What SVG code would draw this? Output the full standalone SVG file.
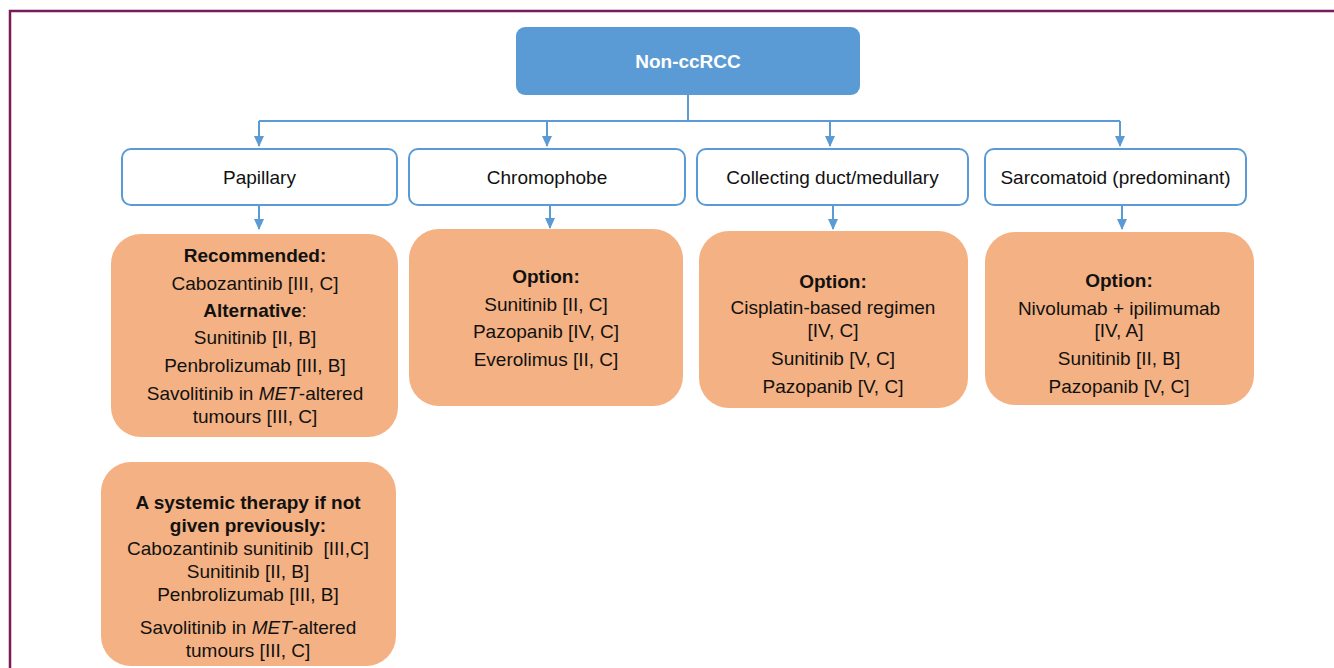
<svg xmlns="http://www.w3.org/2000/svg" width="1334" height="668" viewBox="0 0 1334 668">
<defs>
<marker id="arr" markerWidth="11" markerHeight="10" refX="10" refY="5" orient="auto" markerUnits="userSpaceOnUse">
<path d="M0,0 L11,5 L0,10 Z" fill="#5B9BD5"/>
</marker>
</defs>
<style>
text{font-family:"Liberation Sans",Arial,sans-serif;font-size:19px;fill:#111;text-anchor:middle}
.b{font-weight:bold}
.w{fill:#fff;font-weight:bold}
.cat{fill:#fff;stroke:#5B9BD5;stroke-width:2}
.opt{fill:#F4B183}
.c{fill:none;stroke:#5B9BD5;stroke-width:2}
</style>
<rect x="0" y="0" width="1334" height="668" fill="#fff"/>
<path d="M10,668 L10,11 L1334,11" fill="none" stroke="#7B1A5A" stroke-width="2.5"/>
<g id="connectors">
<path class="c" d="M688,95 L688,121 M259,121 L1120,121"/>
<path class="c" d="M259,121 L259,146" marker-end="url(#arr)"/>
<path class="c" d="M547,121 L547,146" marker-end="url(#arr)"/>
<path class="c" d="M830,121 L830,146" marker-end="url(#arr)"/>
<path class="c" d="M1120,121 L1120,146" marker-end="url(#arr)"/>
<path class="c" d="M259,205 L259,229" marker-end="url(#arr)"/>
<path class="c" d="M550,205 L550,228" marker-end="url(#arr)"/>
<path class="c" d="M833,205 L833,229" marker-end="url(#arr)"/>
<path class="c" d="M1122,205 L1122,229" marker-end="url(#arr)"/>
</g>
<g id="root">
<rect x="516" y="27" width="344" height="68" rx="9" fill="#5B9BD5"/>
<text class="w" x="688" y="68">Non-ccRCC</text>
</g>
<g id="papillary">
<rect class="cat" x="122" y="149" width="275" height="56" rx="9"/>
<text x="259.5" y="184">Papillary</text>
</g>
<g id="chromophobe">
<rect class="cat" x="409" y="149" width="276" height="56" rx="9"/>
<text x="547" y="184">Chromophobe</text>
</g>
<g id="collecting">
<rect class="cat" x="697" y="149" width="271" height="56" rx="9"/>
<text x="832.5" y="184">Collecting duct/medullary</text>
</g>
<g id="sarcomatoid">
<rect class="cat" x="985" y="149" width="261" height="56" rx="9"/>
<text x="1115.5" y="184">Sarcomatoid (predominant)</text>
</g>
<g id="papillary-options">
<rect class="opt" x="111" y="234" width="287" height="203" rx="30"/>
<text class="b" x="255" y="262">Recommended:</text>
<text x="255" y="290">Cabozantinib [III, C]</text>
<text x="255" y="317"><tspan class="b">Alternative</tspan>:</text>
<text x="255" y="344">Sunitinib [II, B]</text>
<text x="255" y="372">Penbrolizumab [III, B]</text>
<text x="255" y="400">Savolitinib in <tspan font-style="italic">MET</tspan>-altered</text>
<text x="255" y="423">tumours [III, C]</text>
</g>
<g id="chromophobe-options">
<rect class="opt" x="409" y="229" width="274" height="177" rx="30"/>
<text class="b" x="546" y="283">Option:</text>
<text x="546" y="311">Sunitinib [II, C]</text>
<text x="546" y="338">Pazopanib [IV, C]</text>
<text x="546" y="366">Everolimus [II, C]</text>
</g>
<g id="collecting-options">
<rect class="opt" x="699" y="231" width="269" height="177" rx="30"/>
<text class="b" x="833" y="288">Option:</text>
<text x="833" y="314">Cisplatin-based regimen</text>
<text x="833" y="337">[IV, C]</text>
<text x="833" y="365">Sunitinib [V, C]</text>
<text x="833" y="393">Pazopanib [V, C]</text>
</g>
<g id="sarcomatoid-options">
<rect class="opt" x="985" y="232" width="269" height="173" rx="30"/>
<text class="b" x="1119" y="287">Option:</text>
<text x="1119" y="315">Nivolumab + ipilimumab</text>
<text x="1119" y="337">[IV, A]</text>
<text x="1119" y="365">Sunitinib [II, B]</text>
<text x="1119" y="393">Pazopanib [V, C]</text>
</g>
<g id="subsequent-options">
<rect class="opt" x="101" y="462" width="295" height="204" rx="30"/>
<text class="b" x="248" y="509">A systemic therapy if not</text>
<text class="b" x="248" y="532">given previously:</text>
<text x="248" y="555">Cabozantinib sunitinib &#160;[III,C]</text>
<text x="248" y="578">Sunitinib [II, B]</text>
<text x="248" y="601">Penbrolizumab [III, B]</text>
<text x="248" y="634">Savolitinib in <tspan font-style="italic">MET</tspan>-altered</text>
<text x="248" y="657">tumours [III, C]</text>
</g>
</svg>
